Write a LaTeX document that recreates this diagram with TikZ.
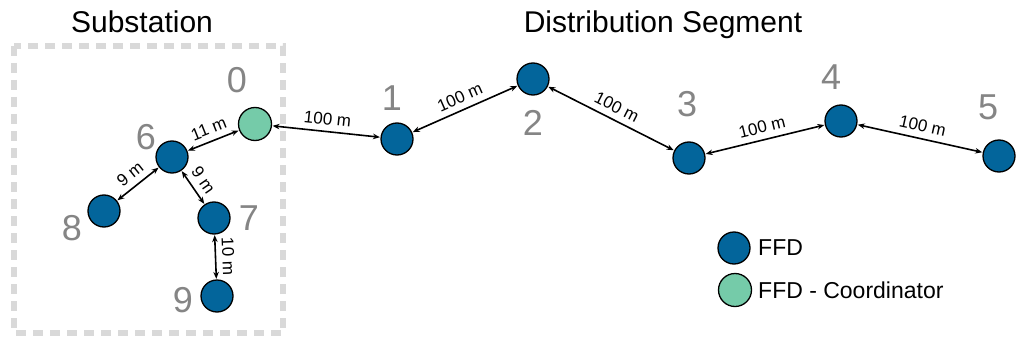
\documentclass[tikz,border=0pt]{standalone}
\usepackage{fontspec}
\setmainfont{Liberation Sans}
\usetikzlibrary{arrows.meta}
\definecolor{ffdblue}{HTML}{03659B}
\definecolor{ffdgreen}{HTML}{75CBA9}
\definecolor{numgray}{HTML}{858585}
\definecolor{boxgray}{HTML}{D9D9D9}
\tikzset{
  ffd/.style={circle, draw=black, line width=1.3pt, fill=ffdblue, minimum size=32pt, inner sep=0pt},
  coord/.style={circle, draw=black, line width=1.3pt, fill=ffdgreen, minimum size=33pt, inner sep=0pt},
  num/.style={text=numgray, font=\fontsize{36}{40}\selectfont, inner sep=0pt},
  title/.style={font=\fontsize{30}{34}\selectfont, inner sep=0pt, anchor=base},
  link/.style={{Stealth[length=7pt,width=5.5pt]}-{Stealth[length=7pt,width=5.5pt]}, line width=1.6pt, shorten <=0.5pt, shorten >=0.5pt},
  dist/.style={font=\fontsize{17}{20}\selectfont, sloped, above=5pt, inner sep=1pt},
  legtext/.style={font=\fontsize{23}{26}\selectfont, anchor=west, inner sep=0pt}
}
\begin{document}
\begin{tikzpicture}[x=1pt,y=-1pt]
\useasboundingbox[fill=white] (0,0) rectangle (1024,350);
% substation box
\draw[boxgray, line width=6pt, dash pattern=on 10pt off 7pt] (14,46) rectangle (283,333);
% titles
\node[title] (tsub) at (142,33) {Substation};
\node[title] (tdist) at (663,33) {Distribution Segment};
% nodes
\node[coord] (n0) at (255,124) {};
\node[ffd] (n6) at (172,157) {};
\node[ffd] (n8) at (104,211) {};
\node[ffd] (n7) at (214,218) {};
\node[ffd] (n9) at (217,296) {};
\node[ffd] (n1) at (397,139) {};
\node[ffd] (n2) at (533,79) {};
\node[ffd] (n3) at (689,158) {};
\node[ffd] (n4) at (841,121) {};
\node[ffd] (n5) at (999,156) {};
% number labels
\node[num] (l0) at (237,80) {0};
\node[num] (l6) at (146,137) {6};
\node[num] (l8) at (72,228) {8};
\node[num] (l7) at (249,218) {7};
\node[num] (l9) at (183,300) {9};
\node[num] (l1) at (392,98) {1};
\node[num] (l2) at (533,123) {2};
\node[num] (l3) at (687,104) {3};
\node[num] (l4) at (831,77) {4};
\node[num] (l5) at (988,107) {5};
% links
\draw[link] (n6) -- node[dist] {11 m} (n0);
\draw[link] (n8) -- node[dist] {9 m} (n6);
\draw[link] (n6) -- node[dist] {9 m} (n7);
\draw[link] (n7) -- node[dist] {10 m} (n9);
\draw[link] (n0) -- node[dist] {100 m} (n1);
\draw[link] (n1) -- node[dist] {100 m} (n2);
\draw[link] (n2) -- node[dist] {100 m} (n3);
\draw[link] (n3) -- node[dist] {100 m} (n4);
\draw[link] (n4) -- node[dist] {100 m} (n5);
% legend
\node[ffd] (leg1) at (734,248) {};
\node[coord] (leg2) at (735,290) {};
\node[legtext] (leg1t) at (758,248) {FFD};
\node[legtext] (leg2t) at (758,290) {FFD - Coordinator};
\end{tikzpicture}
\end{document}
